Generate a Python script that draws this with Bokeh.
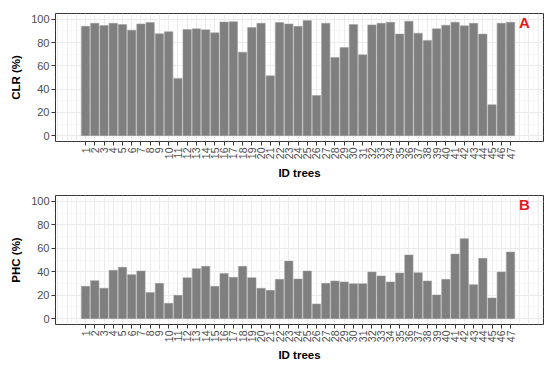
import numpy as np
from bokeh.plotting import figure
from bokeh.models import FixedTicker, Range1d, Label, ColumnDataSource
from bokeh.layouts import column
from bokeh.embed import file_html
from bokeh.resources import INLINE

trees = list(range(1, 48))
clr = [94, 96.6, 94.6, 96.6, 95.5, 90.7, 96, 97.2, 87.6, 89.3, 49.2, 91.2, 91.8, 91, 88.4,
       97.7, 98, 71.8, 92.9, 96.6, 51.4, 97.2, 96, 94, 98.9, 34.5, 96.6, 67.2, 75.7, 95.5, 69.5, 95.2,
       96.6, 97.5, 87.3, 98.3, 88.1, 81.9, 91.8, 94.9, 97.5, 94.4, 96.6, 87.3, 26.6, 96.6, 97.5]
phc = [27.6, 32.4, 25.9, 41.2, 43.8, 37.5, 40.6, 22.2, 30.1, 13.1, 19.9, 34.9, 42.6, 44.6, 27.6,
       38.4, 35.2, 44.6, 34.9, 25.9, 24.1, 33.5, 49.1, 33.8, 40.6, 12.5, 30.1, 32.1, 31.3, 29.8, 29.8, 39.8,
       36.4, 31.3, 38.9, 54.3, 39.2, 32.1, 20.2, 33.5, 55.1, 68.2, 29.0, 51.4, 17.6, 39.8, 56.8]
y_ticks = [0, 20, 40, 60, 80, 100]
x_label = "ID trees"
FONT = "Liberation Sans"


def panel(values, ylabel, tag, height, btop, bbottom, title_standoff):
    p = figure(width=550, height=height, output_backend="svg", toolbar_location=None,
               x_range=Range1d(-2.25, 50.57), y_range=Range1d(-5, 105),
               min_border_left=55, min_border_right=7, min_border_top=btop,
               min_border_bottom=bbottom)
    src = ColumnDataSource(dict(x=trees, top=values))
    p.vbar(x="x", top="top", bottom=0, width=0.9, source=src,
           fill_color="#7F7F7F", line_color="#9A9A9A", line_width=0.5)
    p.background_fill_color = "white"
    p.border_fill_color = "white"
    p.outline_line_color = "#333333"
    p.outline_line_width = 1

    # grids
    p.xgrid.ticker = FixedTicker(ticks=list(range(-2, 51)),
                                 minor_ticks=[k + 0.5 for k in range(-3, 51)])
    p.ygrid.ticker = FixedTicker(ticks=y_ticks, minor_ticks=[10, 30, 50, 70, 90])
    for g in (p.xgrid, p.ygrid):
        g.grid_line_color = "#EBEBEB"
        g.grid_line_width = 1
        g.minor_grid_line_color = "#F2F2F2"
        g.minor_grid_line_width = 0.6

    # axes
    p.xaxis.ticker = FixedTicker(ticks=trees, minor_ticks=[])
    p.yaxis.ticker = FixedTicker(ticks=y_ticks, minor_ticks=[])
    for ax in (p.xaxis, p.yaxis):
        ax.axis_line_color = None
        ax.major_tick_line_color = "#333333"
        ax.major_tick_out = 4
        ax.major_tick_in = 0
        ax.minor_tick_out = 0
        ax.minor_tick_in = 0
        ax.major_label_text_color = "#4D4D4D"
        ax.major_label_text_font = FONT
        ax.axis_label_text_font = FONT
        ax.axis_label_text_font_style = "bold"
        ax.axis_label_text_color = "black"
        ax.axis_label_text_font_size = "11.5px"
        ax.major_label_standoff = 2
    p.xaxis.major_label_text_font_size = "10.5px"
    p.yaxis.major_label_text_font_size = "11px"
    p.xaxis.major_label_orientation = np.pi / 2
    p.xaxis.axis_label = x_label
    p.yaxis.axis_label = ylabel
    p.xaxis.axis_label_standoff = title_standoff
    p.yaxis.axis_label_standoff = 6

    p.add_layout(Label(x=48.5, y=97, text=tag, text_color="#E41A1C",
                       text_font=FONT, text_font_style="bold", text_font_size="15px",
                       text_align="center", text_baseline="middle"))
    return p


pa = panel(clr, "CLR (%)", "A", 183, 13, 42, 5)
pb = panel(phc, "PHC (%)", "B", 184, 12, 43, 4)
layout = column(pa, pb, spacing=0)
open("out.html", "w").write(file_html(layout, INLINE))
